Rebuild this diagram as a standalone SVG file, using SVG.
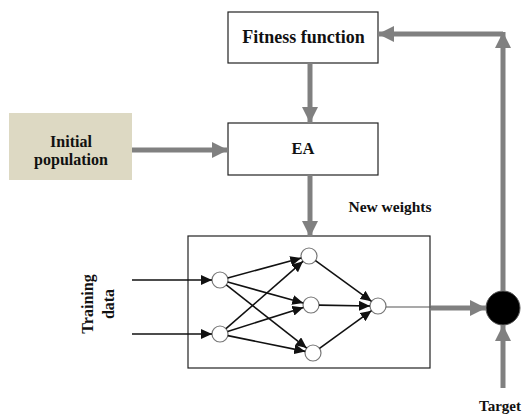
<svg xmlns="http://www.w3.org/2000/svg" width="527" height="418" viewBox="0 0 527 418">
<style>
.box{fill:#fff;stroke:#222;stroke-width:1.2}
.t{font-family:"Liberation Serif","Times New Roman",serif;font-weight:bold;fill:#111;text-anchor:middle}
.g{stroke:#808080;stroke-width:5;fill:none;marker-end:url(#ga)}
.n{stroke:#111;stroke-width:1.6;fill:none;marker-end:url(#ba)}
.node{fill:#fff;stroke:#777;stroke-width:1.2}
</style>
<defs>
<marker id="ga" markerUnits="userSpaceOnUse" markerWidth="16" markerHeight="16" viewBox="0 0 16 16" refX="16" refY="8" orient="auto"><path d="M0,0 L16,8 L0,16 Z" fill="#808080"/></marker>
<marker id="ba" markerUnits="userSpaceOnUse" markerWidth="11" markerHeight="10" viewBox="0 0 11 10" refX="11" refY="5" orient="auto"><path d="M0,0 L11,5 L0,10 Z" fill="#111"/></marker>
</defs>
<rect width="527" height="418" fill="#fff"/>
<g id="fitness"><rect class="box" x="228" y="12" width="150" height="51"/><text class="t" x="303.5" y="43" font-size="18">Fitness function</text></g>
<g id="ea"><rect class="box" x="228" y="123" width="150" height="52"/><text class="t" x="303" y="154" font-size="16.5">EA</text></g>
<g id="initial"><rect x="9" y="113" width="123" height="67" fill="#ddd9c3"/><text class="t" x="71" y="147" font-size="16">Initial</text><text class="t" x="71" y="165" font-size="16">population</text></g>
<g id="newweights"><text class="t" x="390" y="212" font-size="15.5">New weights</text></g>
<g id="network">
<rect class="box" x="188" y="236" width="242" height="132"/>
<circle class="node" cx="220" cy="280" r="8"/>
<circle class="node" cx="220" cy="334" r="8"/>
<circle class="node" cx="309" cy="256" r="8"/>
<circle class="node" cx="311" cy="305" r="8"/>
<circle class="node" cx="313" cy="353" r="8"/>
<circle class="node" cx="378" cy="306" r="8"/>
</g>
<g id="training"><text class="t" font-size="16" transform="rotate(-90)" x="-304" y="93">Training</text><text class="t" font-size="16" transform="rotate(-90)" x="-304" y="114">data</text></g>
<g id="sum"><circle cx="503" cy="308" r="17" fill="#000" stroke="#555" stroke-width="1"/></g>
<g id="target"><text class="t" x="500" y="411" font-size="15">Target</text></g>
<g id="connectors">
<line class="g" x1="310" y1="63" x2="310" y2="123"/>
<line class="g" x1="132" y1="150" x2="228" y2="150"/>
<line class="g" x1="310" y1="175" x2="310" y2="237"/>
<line class="g" x1="503" y1="291" x2="503" y2="32"/>
<line class="g" x1="503" y1="34" x2="378" y2="34"/>
<line x1="386" y1="307" x2="431" y2="307" stroke="#555" stroke-width="1.2"/>
<line class="g" x1="431" y1="308" x2="486" y2="308"/>
<line class="g" x1="503" y1="388" x2="503" y2="325"/>
<line class="n" x1="132" y1="280" x2="212" y2="280"/>
<line class="n" x1="132" y1="334" x2="212" y2="334"/>
<line class="n" x1="227.7" y1="277.9" x2="301.3" y2="258.1"/>
<line class="n" x1="227.7" y1="282.1" x2="303.3" y2="302.9"/>
<line class="n" x1="226.3" y1="284.9" x2="306.7" y2="348.1"/>
<line class="n" x1="226.0" y1="328.7" x2="303.0" y2="261.3"/>
<line class="n" x1="227.6" y1="331.6" x2="303.4" y2="307.4"/>
<line class="n" x1="227.8" y1="335.6" x2="305.2" y2="351.4"/>
<line class="n" x1="315.5" y1="260.7" x2="371.5" y2="301.3"/>
<line class="n" x1="319" y1="305.1" x2="370" y2="306"/>
<line class="n" x1="319.5" y1="348.3" x2="371.5" y2="310.7"/>
</g>
</svg>
